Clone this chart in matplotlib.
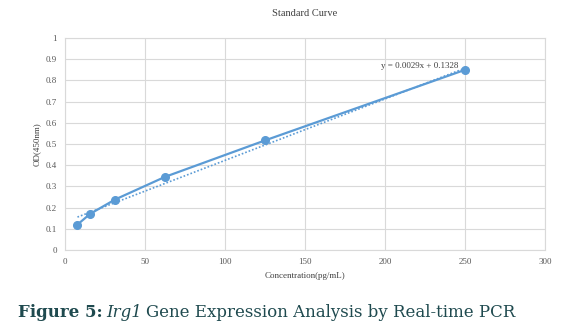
import matplotlib
matplotlib.use("Agg")
import matplotlib.pyplot as plt
import numpy as np

# standard curve: concentration (pg/mL) vs OD at 450 nm
conc = [7.8125, 15.625, 31.25, 62.5, 125, 250]
od = [0.12, 0.17, 0.238, 0.345, 0.517, 0.85]
slope = 0.0029
intercept = 0.1328

blue = '#5b9bd5'
grey = '#595959'

fig = plt.figure(figsize=(5.76, 3.34), dpi=100)
ax = fig.add_axes([0.1128, 0.2515, 0.8333, 0.6345])

ax.plot(conc, od, color=blue, lw=1.6, marker='o', ms=5.5, zorder=3)
xfit = np.array([conc[0], conc[-1]])
ax.plot(xfit, slope * xfit + intercept, color=blue, lw=1.2,
        ls=(0, (1, 1.2)), zorder=2)
ax.text(246, 0.868, f'y = {slope}x + {intercept}', ha='right', va='center',
        fontsize=6.5, family='Liberation Serif', color='#404040')

ax.set_xlim(0, 300)
ax.set_ylim(0, 1)
ax.set_xticks(np.arange(0, 301, 50))
ax.set_yticks(np.round(np.arange(0, 1.01, 0.1), 1))
ax.set_yticklabels(['0'] + [f'{v:.1f}' for v in np.arange(0.1, 0.95, 0.1)] + ['1'])
ax.grid(True, color='#d9d9d9', lw=0.8)
ax.set_axisbelow(True)
for s in ax.spines.values():
    s.set_color('#d9d9d9')
    s.set_linewidth(0.8)
ax.tick_params(length=0, labelsize=6.5, labelcolor=grey, pad=6)
for lab in ax.get_xticklabels() + ax.get_yticklabels():
    lab.set_family('Liberation Serif')

ax.set_title('Standard Curve', fontsize=7.5, family='Liberation Serif',
             color='#404040', pad=16)
ax.set_xlabel('Concentration(pg/mL)', fontsize=6.5, family='Liberation Serif',
              color='#404040', labelpad=4)
ax.set_ylabel('OD(450nm)', fontsize=6.5, family='Liberation Serif',
              color='#404040', labelpad=3)

# caption under the chart, with bold label and italic gene name
cap = '#1f4a4f'
base_y = 0.051
t1 = fig.text(0.031, base_y, 'Figure 5:', fontsize=12, family='DejaVu Serif',
              weight='bold', color=cap, va='baseline')
fig.canvas.draw()
bb = t1.get_window_extent()
x2 = (bb.x1 + 4) / fig.bbox.width
t2 = fig.text(x2, base_y, 'Irg1', fontsize=12, family='DejaVu Serif',
              style='italic', color=cap, va='baseline')
fig.canvas.draw()
bb = t2.get_window_extent()
x3 = (bb.x1 + 4) / fig.bbox.width
fig.text(x3, base_y, 'Gene Expression Analysis by Real-time PCR', fontsize=12,
         family='DejaVu Serif', color=cap, va='baseline')

fig.savefig('out.png', dpi=100)
